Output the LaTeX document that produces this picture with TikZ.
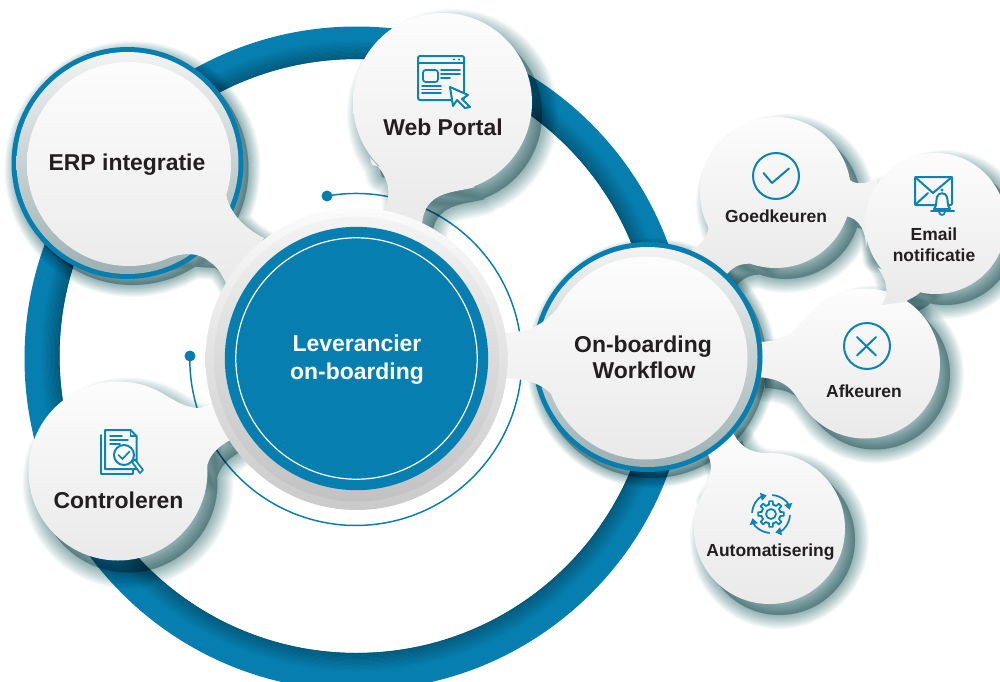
\documentclass[tikz,border=0pt]{standalone}
\usepackage{fontspec}
\setmainfont{Liberation Sans}
\usetikzlibrary{arrows.meta}
\definecolor{mainblue}{HTML}{067FB0}
\definecolor{darkblue}{HTML}{035A7C}
\definecolor{iconblue}{HTML}{0B84B3}
\definecolor{shadowc}{HTML}{8DB4B6}
\definecolor{txt}{HTML}{231F20}
\definecolor{HaloB}{HTML}{9DB1B2}
\tikzset{
  x=0.75pt,y=-0.75pt,
  shadowlayer/.style={fill=shadowc,draw=shadowc,fill opacity=.085,draw opacity=.085,line join=round},
  softdisc/.style={shade,shading angle=45,top color=white!98!gray,bottom color=gray!17},
  grayband/.style={shade,shading angle=45,top color=gray!10,bottom color=HaloB},
  bigtext/.style={font=\bfseries\fontsize{17.2}{20}\selectfont,text=txt,anchor=base,inner sep=0pt},
  smalltext/.style={font=\bfseries\fontsize{13.1}{16}\selectfont,text=txt,anchor=base,inner sep=0pt},
  ic/.style={draw=iconblue,line width=1.5pt,line join=round,line cap=round},
  icthin/.style={draw=iconblue,line width=1.3pt,line cap=round},
}
\newcommand\softshadow[4]{%
  \foreach \i in {1,...,12}{%
    \pgfmathsetmacro\w{#4*(13-\i)/12*1.5}%
    \path[shadowlayer,shift={(#2,#3)},line width=\w pt] #1;
  }}
% disc + necks, all turning the same way
\def\pERP{(129,164) circle (102)
  (180,190) -- (227,182) .. controls (224,195) and (228,205) .. (236,216) .. controls (242,224) and (252,232) .. (264,238) -- (232,296) .. controls (226,283) and (220,268) .. (210,262) .. controls (198,252) and (185,252) .. (165,259) -- cycle}
\def\sERP{(127.5,163) circle (116)
  (180,190) -- (236,216) .. controls (242,224) and (252,232) .. (264,238) -- (232,296) .. controls (226,283) and (220,268) .. (210,262) -- (165,259) -- cycle}
\def\pWeb{(442.5,102.5) circle (89.5)
  (372,165) -- (475,187) .. controls (455,193) and (424,190) .. (422,225) -- (382,214) .. controls (392,198) and (392,178) .. (370,158) -- cycle}
\def\pCon{(118,471) circle (89.5)
  (150,388) .. controls (170,395) and (180,408) .. (200,408) -- (216,402) -- (234,438) .. controls (218,446) and (203,458) .. (207,480) -- cycle}
\def\pOnb{(646,358) circle (101.5)
  (558,404) .. controls (550,388) and (535,379) .. (503,378) -- (503,333) .. controls (530,333) and (548,322) .. (561,304) -- cycle}
\def\sOnb{(647.5,357) circle (115)}
\def\pGoe{(775.5,192.5) circle (75.5)
  (765,266) .. controls (750,262) and (737,262) .. (727,274) -- (688,252) .. controls (703,243) and (712,235) .. (707,220) -- cycle
  (848,178) .. controls (853,185) and (865,185) .. (878,178) -- (866,248) .. controls (866,232) and (860,218) .. (845,216) -- cycle}
\def\pEma{(935.5,223.5) circle (70.5)
  (925,285) .. controls (920,296) and (912,297) .. (905,302) -- (882,305) .. controls (890,290) and (886,280) .. (878,268) -- cycle}
\def\pAfk{(865,363.5) circle (75)
  (800,402) .. controls (790,385) and (780,378) .. (755,377) -- (755,342) .. controls (785,342) and (795,332) .. (800,322) -- cycle}
\def\pAut{(769.5,528.5) circle (75.5)
  (700,490) .. controls (715,475) and (712,462) .. (706,450) -- (732,430) .. controls (738,445) and (748,452) .. (765,453) -- cycle}
\begin{document}
\begin{tikzpicture}
\useasboundingbox (0,0) rectangle (1000,682);
\clip (0,0) rectangle (1000,682);
\fill[white] (0,0) rectangle (1000,682);
% big ring
\begin{scope}
  \fill[mainblue,even odd rule] (356.5,358.5) circle (332) (356.5,356) circle (297);
  \clip (356.5,358.5) circle (332);
  \foreach \k in {0,...,15}{%
    \pgfmathsetmacro\m{100-\k*6.6}%
    \draw[darkblue!\m!mainblue,line width=1pt] (356.5,356) circle ({297.6+\k*1.25});
  }
\end{scope}
% thin arc with its dots
\coordinate (arcstart) at (327,196);
\coordinate (arcend) at (190,356);
\draw[mainblue,line width=1.1pt] (arcstart) arc[start angle=260,end angle=541,radius=166];
\fill[mainblue] (arcstart) circle (5.5);
\fill[mainblue] (arcend) circle (5.5);
% shadows
\begin{scope}[blend mode=multiply]
  \softshadow{\sERP}{5}{6}{12}
  \softshadow{\sOnb}{4}{6}{10}
  \softshadow{\pWeb}{10}{12}{16}
  \softshadow{\pCon}{10}{12}{16}
  \softshadow{\pGoe}{10}{11}{14}
  \softshadow{\pEma}{10}{11}{14}
  \softshadow{\pAfk}{10}{11}{14}
  \softshadow{\pAut}{10}{11}{14}
\end{scope}
% small blobs sit below the On-boarding disc
\path[softdisc] \pGoe;
\path[softdisc] \pAut;
\path[softdisc] \pAfk;
\path[softdisc] \pEma;
% ERP
\fill[mainblue] (127.5,163) circle (116);
\path[grayband] (127.5,163) circle (111);
\path[softdisc] \pERP;
% On-boarding
\fill[mainblue] (647.5,357) circle (115);
\path[grayband] (647.5,357) circle (110);
\path[softdisc] \pOnb;
% Web, Controleren
\path[softdisc] \pWeb;
\path[softdisc] \pCon;
% centre
\path[shade,shading angle=45,top color=white!97!gray,bottom color=gray!42] (356.5,359) circle (151);
\path[shade,shading angle=45,top color=gray!9,bottom color=gray!48] (356.5,359) circle (142.5);
\node[circle,fill=mainblue,minimum size=197.5pt,inner sep=0pt] (centre) at (356.5,358.5) {};
\draw[white,line width=.9pt] (centre.center) circle (120.7);
% texts
\node[bigtext] (terp) at (127,170) {ERP integratie};
\node[bigtext] (tweb) at (443,135) {Web Portal};
\node[bigtext,text=white] (tlev) at (357,351) {Leverancier};
\node[bigtext,text=white] (tonb) at (357,379) {on-boarding};
\node[bigtext] (tob) at (643,352) {On-boarding};
\node[bigtext] (twf) at (644,378) {Workflow};
\node[bigtext] (tcon) at (118.5,508) {Controleren};
\node[smalltext] (tgoe) at (776,222) {Goedkeuren};
\node[smalltext] (tem) at (934,240) {Email};
\node[smalltext] (tno) at (934,261) {notificatie};
\node[smalltext] (tafk) at (864,397) {Afkeuren};
\node[smalltext] (taut) at (770.5,556.5) {Automatisering};
% icon: web
\draw[ic,rounded corners=1.5pt] (418,56) rectangle (464,100);
\draw[icthin] (418,63) -- (464,63);
\fill[iconblue] (454,59.5) circle (1.1) (459,59.5) circle (1.1);
\draw[icthin,rounded corners=2pt] (423,70) rectangle (438,82);
\draw[icthin] (441,70) -- (460,70) (441,74) -- (460,74) (441,78) -- (450,78);
\draw[icthin] (422,86) -- (441,86) (422,89.5) -- (441,89.5) (422,93) -- (441,93);
\draw[ic,fill=white!96!gray] (450,87) -- (468,95) -- (462,99) -- (470,107) -- (465,108) -- (457,100) -- (453,106) -- cycle;
% icon: controleren
\draw[ic] (101,435) -- (101,474) -- (133,474) -- (133,470);
\draw[ic,fill=white!96!gray] (105,430) -- (130.5,430) -- (136.5,436) -- (136.5,469) -- (105,469) -- cycle;
\draw[icthin] (130.5,430) -- (130.5,436) -- (136.5,436);
\draw[icthin] (110,436) -- (122,436) (110,440) -- (128,440) (110,444) -- (120,444);
\draw[ic,fill=white!96!gray] (124,455) circle (10);
\draw[icthin] (118.5,455) -- (122.5,459) -- (129.5,451.5);
\draw[ic,line width=1.3pt,fill=white!96!gray] (132,462) -- (135,459.5) -- (143,470) -- (140,473) -- cycle;
% icon: goedkeuren
\draw[ic] (776,176) circle (23);
\draw[ic] (763.5,173) -- (772,183) -- (789,168.5);
% icon: afkeuren
\draw[ic] (867,346) circle (23);
\draw[ic] (857,337) -- (876,355.5) (876,337) -- (857,355.5);
% icon: email
\draw[ic,rounded corners=1pt] (915,177) rectangle (952,205);
\draw[ic] (915,177) -- (933,193) -- (952,177) (915,205) -- (928,193);
\draw[ic,fill=white!96!gray] (934,209) .. controls (937,206) and (936,200) .. (937,197) .. controls (938,192) and (946,192) .. (947,197) .. controls (948,200) and (947,206) .. (950,209) -- cycle;
\draw[ic] (931,210.5) -- (954,210.5);
\draw[icthin] (939,212) .. controls (940,216) and (944,216) .. (945,212);
\fill[iconblue] (942,190) circle (1.6);
% icon: gear
\begin{scope}[shift={(771,514)}]
  \foreach \a in {0,45,...,315}{%
    \draw[icthin,line join=round] (\a-22.5:9.5) -- (\a-12:9.5) -- (\a-8:13) -- (\a+8:13) -- (\a+12:9.5) -- (\a+22.5:9.5);
  }
  \draw[icthin] (0,0) circle (5);
  \foreach \a in {5,95,185,275}{%
    \draw[icthin,-{Triangle[length=4.5pt,width=6pt]}] (\a:19) arc[start angle=\a,end angle=\a+72,radius=19];
  }
\end{scope}
\end{tikzpicture}
\end{document}
